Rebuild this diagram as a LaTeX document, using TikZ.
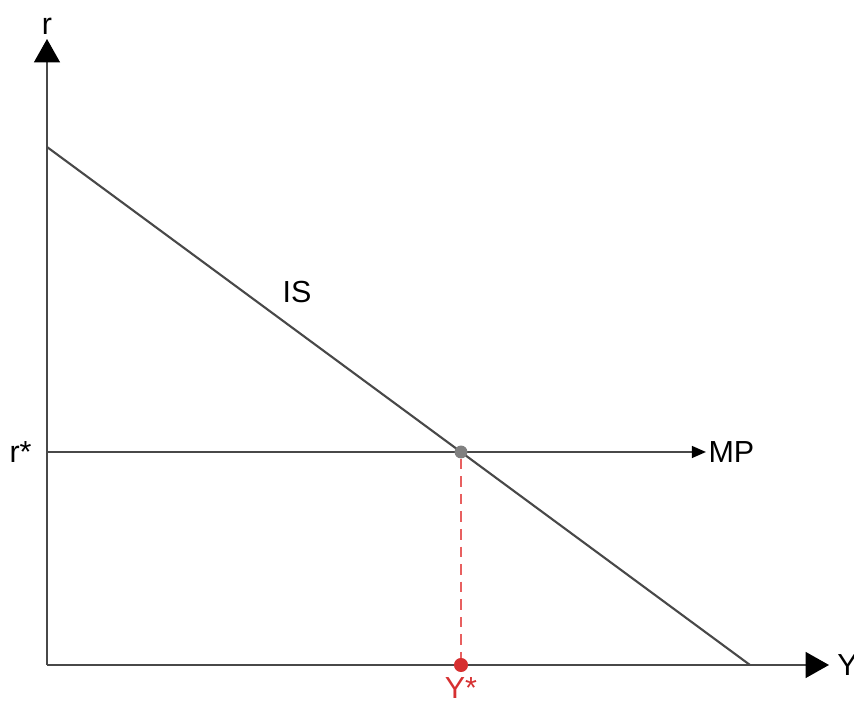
\documentclass[tikz,border=0pt]{standalone}
\usepackage{fontspec}
\setmainfont{Liberation Sans}
\usetikzlibrary{arrows.meta,positioning,calc}
\definecolor{axisgray}{RGB}{72,72,72}
\definecolor{eqred}{RGB}{214,48,49}
\definecolor{dashred}{RGB}{232,96,96}

\begin{document}
\begin{tikzpicture}[x=0.03cm,y=0.03cm,>=Latex,
  lbl/.style={font=\fontsize{26}{30}\selectfont,inner sep=1pt},
  axisline/.style={axisgray,line width=2pt},
  curve/.style={axisgray,line width=1.8pt},
  eqdot/.style={circle,inner sep=0pt,minimum size=11\pgflinewidth}]
\useasboundingbox (0,0) rectangle (854,707);
% axes
\coordinate (O) at (47,42);
\coordinate (rtop) at (47,668);
\coordinate (yend) at (829,42);
\draw[axisline,-{Triangle[length=20pt,width=22pt,color=black]}] (O) -- (rtop);
\draw[axisline,-{Triangle[length=20pt,width=22pt,color=black]}] (O) -- (yend);
\node[lbl,above=3pt] (r) at (rtop) {r};
\node[lbl,right=6pt] (Y) at (yend) {Y};
% IS and MP
\coordinate (istop) at (47,560);
\coordinate (isend) at (750,42);
\coordinate (rstar) at (47,255);
\coordinate (mpend) at (706,255);
\draw[curve] (istop) -- (isend);
\draw[curve,-{Triangle[length=12pt,width=10pt,color=black]}] (rstar) -- (mpend);
\node[lbl] (IS) at (297,415) {IS};
\node[lbl,right=1pt] (MP) at (mpend) {MP};
\node[lbl,left=12pt] (rs) at (rstar) {r*};
% equilibrium
\node[eqdot,fill=gray,minimum size=11pt] (E) at (461,255) {};
\node[eqdot,fill=eqred,minimum size=12pt] (Ystar) at (461,42) {};
\draw[dashred,line width=1.6pt,dash pattern=on 9pt off 6pt] (E) -- (Ystar);
\node[lbl,text=eqred,below=3pt] (Ys) at (Ystar.south) {Y*};
\end{tikzpicture}
\end{document}
